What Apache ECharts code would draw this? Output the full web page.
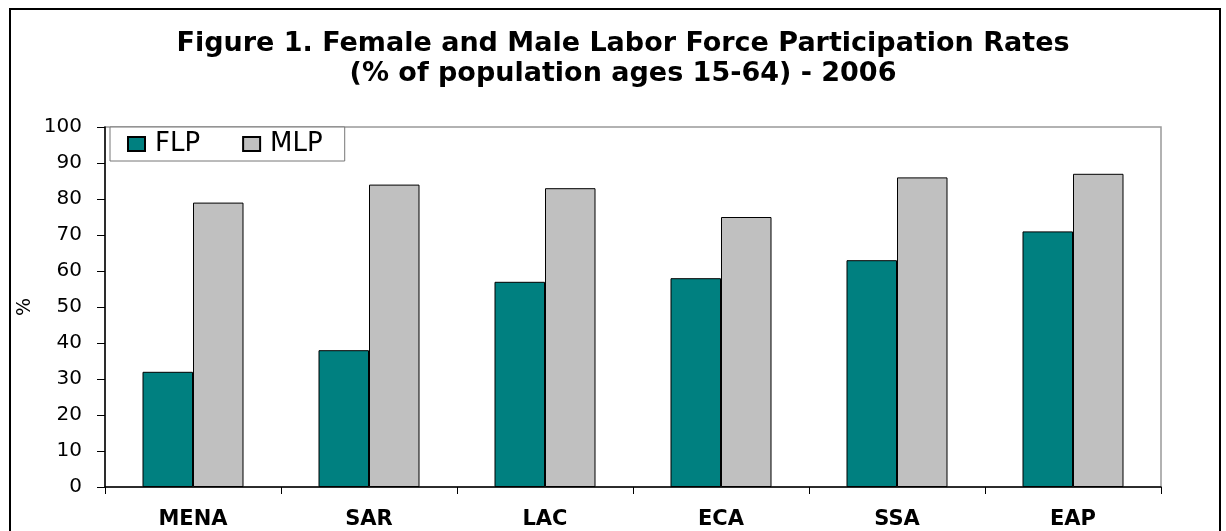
<!DOCTYPE html>
<html>
<head>
<meta charset="utf-8">
<script src="https://cdn.jsdelivr.net/npm/echarts@6/dist/echarts.min.js"></script>
<style>
  html, body { margin: 0; padding: 0; background: #fff; }
  #chart { width: 1226px; height: 531px; }
</style>
</head>
<body>
<div id="chart"></div>
<script>
const regions = ["MENA", "SAR", "LAC", "ECA", "SSA", "EAP"];
const flp = [32, 38, 57, 58, 63, 71];
const mlp = [79, 84, 83, 75, 86, 87];
const yTicks = { min: 0, max: 100, interval: 10 };

const chart = echarts.init(document.getElementById("chart"));

const option = {
  backgroundColor: "#fff",
  animation: false,
  textStyle: { fontFamily: "DejaVu Sans", color: "#000" },
  title: {
    text: "Figure 1. Female and Male Labor Force Participation Rates\n(% of population ages 15-64) - 2006",
    left: 618,
    top: 24,
    textAlign: "center",
    textStyle: {
      fontFamily: "DejaVu Sans",
      fontWeight: "bold",
      fontSize: 27,
      lineHeight: 30,
      color: "#000"
    }
  },
  graphic: [
    {
      type: "rect",
      shape: { x: 10, y: 9, width: 1210, height: 540 },
      style: { fill: "none", stroke: "#000", lineWidth: 2 },
      silent: true
    }
  ],
  legend: {
    left: 110,
    top: 127,
    orient: "horizontal",
    icon: "rect",
    itemWidth: 17,
    itemHeight: 14,
    itemGap: 42,
    padding: [4, 22, 4, 17],
    borderColor: "#777",
    borderWidth: 1,
    backgroundColor: "#fff",
    textStyle: {
      fontFamily: "DejaVu Sans",
      fontSize: 26,
      color: "#000",
      padding: [0, 0, 0, 5]
    },
    data: ["FLP", "MLP"]
  },
  grid: {
    left: 105,
    right: 65,
    top: 127,
    bottom: 44,
    show: true,
    borderColor: "#999",
    borderWidth: 1.5
  },
  xAxis: {
    type: "category",
    data: regions,
    axisLine: { lineStyle: { color: "#000", width: 1.5 } },
    axisTick: { show: true, length: 7, lineStyle: { color: "#000" } },
    axisLabel: {
      margin: 22,
      fontFamily: "DejaVu Sans",
      fontWeight: "bold",
      fontSize: 21,
      color: "#000"
    },
    splitLine: { show: false }
  },
  yAxis: {
    type: "value",
    min: yTicks.min,
    max: yTicks.max,
    interval: yTicks.interval,
    name: "%",
    nameLocation: "middle",
    nameRotate: 90,
    nameGap: 70,
    nameMoveOverlap: false,
    nameTextStyle: { fontFamily: "DejaVu Sans", fontSize: 19, color: "#000" },
    axisLine: { show: true, lineStyle: { color: "#000", width: 1.5 } },
    axisTick: { show: true, length: 8, lineStyle: { color: "#000" } },
    axisLabel: {
      margin: 23,
      fontFamily: "DejaVu Sans",
      fontSize: 20,
      color: "#000"
    },
    splitLine: { show: false }
  },
  series: [
    {
      name: "FLP",
      type: "bar",
      data: flp,
      barWidth: 50.5,
      barGap: "0%",
      itemStyle: { color: "#008080", borderColor: "#000", borderWidth: 1 }
    },
    {
      name: "MLP",
      type: "bar",
      data: mlp,
      barWidth: 50.5,
      barGap: "0%",
      itemStyle: { color: "#C0C0C0", borderColor: "#000", borderWidth: 1 }
    }
  ]
};

chart.setOption(option);

window.addEventListener("resize", () => chart.resize());
</script>
</body>
</html>
